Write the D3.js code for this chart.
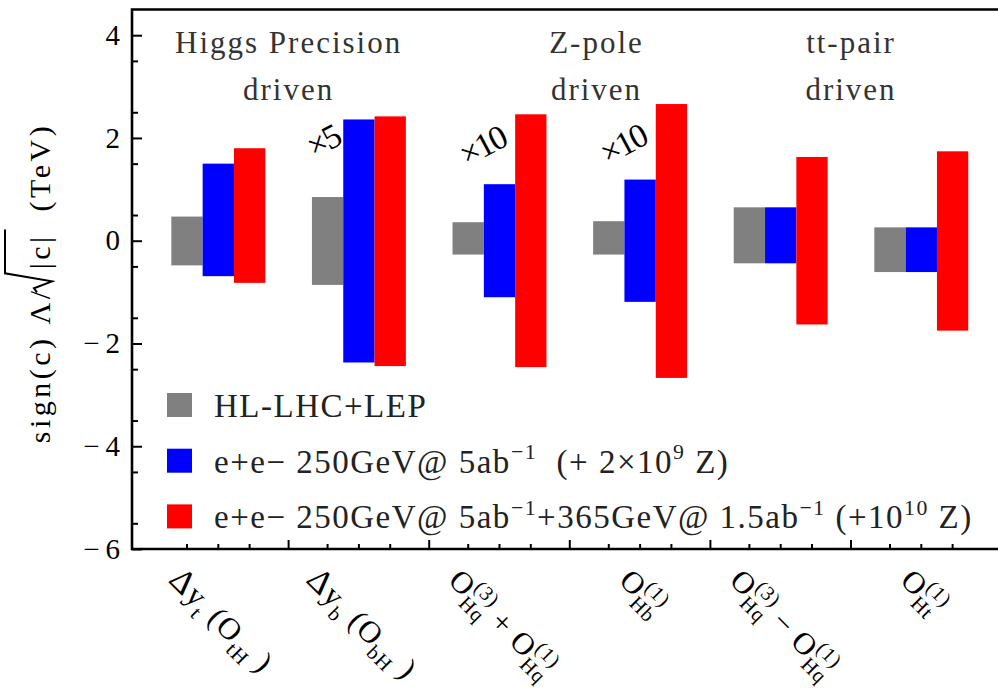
<!DOCTYPE html>
<html>
<head>
<meta charset="utf-8">
<script src="https://cdn.jsdelivr.net/npm/d3@7"></script>
<style>
  body { margin: 0; background: #fff; }
  text { font-family: "Liberation Serif", "Times New Roman", serif; white-space: pre; }
</style>
</head>
<body>
<svg id="chart" width="998" height="691"></svg>
<script>
// operator categories along the x axis
const categories = ["dyt", "dyb", "hq3p1", "hb1", "hq3m1", "ht1"];
const series = ["hllhc", "ee250", "ee365"];
const seriesColors = ["#808080", "#0000ff", "#ff0000"];

// upper / lower end of every bar (TeV)
const hllhcHigh = [0.47, 0.85, 0.36, 0.38, 0.65, 0.26];
const hllhcLow = [-0.48, -0.86, -0.27, -0.27, -0.44, -0.61];
const ee250High = [1.50, 2.36, 1.10, 1.19, 0.65, 0.26];
const ee250Low = [-0.69, -2.37, -1.10, -1.19, -0.44, -0.61];
const ee365High = [1.80, 2.42, 2.46, 2.66, 1.63, 1.74];
const ee365Low = [-0.82, -2.44, -2.46, -2.67, -1.63, -1.75];

const yTicks = [-6, -4, -2, 0, 2, 4];

// scale-factor notes on the blue bars
const noteCats = ["dyb", "hq3p1", "hb1"];
const noteTexts = ["×5", "×10", "×10"];
const noteY = [1.95, 1.86, 1.89];

const groupTitles = [["Higgs Precision", "driven"], ["Z-pole", "driven"], ["tt-pair", "driven"]];
const groupTitleAt = [1.0, 3.19, 5.0];   // in units of category steps

const legendLabels = [
  [["HL-LHC+LEP", "n"]],
  [["e+e− 250GeV@ 5ab", "n"], ["−1", "sup"], ["  (+ 2×10", "n"], ["9", "sup"], [" Z)", "n"]],
  [["e+e− 250GeV@ 5ab", "n"], ["−1", "sup"], ["+365GeV@ 1.5ab", "n"], ["−1", "sup"], [" (+10", "n"], ["10", "sup"], [" Z)", "n"]]
];

const xLabels = [
  [["Δ", "n", 34], ["y", "n"], ["t", "sub"], [" (O", "n"], ["tH", "sub"], [" )", "n"]],
  [["Δ", "n", 34], ["y", "n"], ["b", "sub"], [" (O", "n"], ["bH", "sub"], [" )", "n"]],
  [["O", "n"], [["Hq", "(3)"], "subsup"], [" + O", "n"], [["Hq", "(1)"], "subsup"]],
  [["O", "n"], [["Hb", "(1)"], "subsup"]],
  [["O", "n"], [["Hq", "(3)"], "subsup"], [" − O", "n"], [["Hq", "(1)"], "subsup"]],
  [["O", "n"], [["Ht", "(1)"], "subsup"]]
];

const bars = [
  { high: hllhcHigh, low: hllhcLow },
  { high: ee250High, low: ee250Low },
  { high: ee365High, low: ee365Low }
];

const plotLeft = 132, plotRight = 1000, plotTop = 9.5, plotBottom = 549;
const svg = d3.select("#chart");

const x = d3.scaleBand().domain(categories).range([148, 991.6]);
const xs = d3.scaleBand().domain(series).range([0, x.bandwidth()]).paddingOuter(0.745);
const y = d3.scaleLinear().domain([-6, 4.5]).range([plotBottom, plotTop]);

// lays out a run of normal / sub / sup pieces, returns width
function richText(g, pieces, size, spacing) {
  let cx = 0;
  pieces.forEach(([t, mode, fs]) => {
    const small = size * 0.66;
    if (mode === "subsup") {
      const a = g.append("text").attr("x", cx).attr("y", size * 0.28).attr("font-size", small)
        .attr("letter-spacing", spacing).text(t[0]);
      const b = g.append("text").attr("x", cx).attr("y", -size * 0.42).attr("font-size", small)
        .attr("letter-spacing", spacing).text(t[1]);
      cx += Math.max(a.node().getComputedTextLength(), b.node().getComputedTextLength());
    } else {
      const dy = mode === "sub" ? size * 0.28 : mode === "sup" ? -size * 0.42 : 0;
      const el = g.append("text").attr("x", cx).attr("y", dy)
        .attr("font-size", mode === "n" ? (fs || size) : small)
        .attr("letter-spacing", spacing).text(t);
      cx += el.node().getComputedTextLength();
    }
  });
  return cx;
}

// bars
bars.forEach((s, si) => {
  svg.append("g").selectAll("rect").data(categories).join("rect")
    .attr("x", c => x(c) + xs(series[si]))
    .attr("width", xs.bandwidth())
    .attr("y", (c, i) => y(s.high[i]))
    .attr("height", (c, i) => y(s.low[i]) - y(s.high[i]))
    .attr("fill", seriesColors[si]);
});

// y axis ticks
const yAxis = svg.append("g").attr("transform", `translate(${plotLeft},0)`)
  .call(d3.axisLeft(y).tickValues(yTicks).tickSizeInner(-10).tickSizeOuter(0).tickPadding(12)
    .tickFormat(d => d < 0 ? "−\u2009" + (-d) : String(d)));
yAxis.select(".domain").remove();
yAxis.selectAll("line").attr("stroke", "#000").attr("stroke-width", 2);
yAxis.selectAll("text").attr("font-size", 29).attr("fill", "#000")
  .style("font-family", '"Liberation Serif", serif');

const yMinor = svg.append("g").attr("transform", `translate(${plotLeft},0)`)
  .call(d3.axisLeft(y).tickValues(d3.range(-5.5, 4.5, 1)).tickSizeInner(-6).tickSizeOuter(0).tickFormat(""));
yMinor.select(".domain").remove();
yMinor.selectAll("line").attr("stroke", "#000").attr("stroke-width", 2);

// x axis ticks: majors at group boundaries, minors at bar centres
const xt = svg.append("g");
xt.selectAll(".maj").data(categories.slice(0, -1)).join("line")
  .attr("x1", c => x(c) + x.bandwidth()).attr("x2", c => x(c) + x.bandwidth())
  .attr("y1", plotBottom).attr("y2", plotBottom - 9)
  .attr("stroke", "#000").attr("stroke-width", 2);
xt.selectAll(".min").data(d3.cross(categories, series)).join("line")
  .attr("x1", d => x(d[0]) + xs(d[1]) + xs.bandwidth() / 2)
  .attr("x2", d => x(d[0]) + xs(d[1]) + xs.bandwidth() / 2)
  .attr("y1", plotBottom).attr("y2", plotBottom - 5)
  .attr("stroke", "#000").attr("stroke-width", 2);

// frame
svg.append("path")
  .attr("d", `M${plotRight},${plotBottom}H${plotLeft}V${plotTop}H${plotRight}`)
  .attr("fill", "none").attr("stroke", "#000").attr("stroke-width", 2.6);

// x labels, rotated 45 deg
xLabels.forEach((pieces, i) => {
  const outer = svg.append("g");
  const rot = outer.append("g").attr("transform", "rotate(45)");
  const inner = rot.append("g").attr("fill", "#000");
  const w = richText(inner, pieces, 31, 1);
  inner.attr("transform", `translate(${-w / 2},0)`);
  const bb = outer.node().getBBox();
  const cx = x(categories[i]) + x.bandwidth() / 2 + 2;
  outer.attr("transform", `translate(${cx - (bb.x + bb.width / 2)},${560 - bb.y})`);
});

// group titles
groupTitles.forEach((lines, i) => {
  const gx = 148 + groupTitleAt[i] * x.step();
  lines.forEach((t, j) => {
    svg.append("text").attr("x", gx).attr("y", 53 + j * 47)
      .attr("text-anchor", "middle").attr("font-size", 31)
      .attr("letter-spacing", 2).attr("fill", "#333").text(t);
  });
});

// scale notes
noteCats.forEach((c, i) => {
  const nx = x(c) + xs("hllhc") + xs.bandwidth() * (i === 0 ? 0.35 : 0.95);
  svg.append("text").attr("transform", `translate(${nx},${y(noteY[i])}) rotate(-28)`)
    .attr("text-anchor", "middle").attr("dy", "0.35em").attr("font-size", 34)
    .attr("letter-spacing", -2).attr("fill", "#000").text(noteTexts[i]);
});

// legend
legendLabels.forEach((pieces, i) => {
  const ly = 417 + i * 55.7;
  svg.append("rect").attr("x", 167).attr("y", ly - 24).attr("width", 25).attr("height", 24)
    .attr("fill", seriesColors[i]);
  const g = svg.append("g").attr("transform", `translate(214,${ly})`).attr("fill", "#222");
  richText(g, pieces, 33, 1.5);
});

// y axis title with a radical sign
const yl = svg.append("g").attr("transform", "translate(50,283) rotate(-90)");
const yi = yl.append("g").attr("font-size", 30).attr("letter-spacing", 3.5).attr("fill", "#000");
let px = 0;
const t1 = yi.append("text").attr("x", px).text("sign(c) Λ/");
px += t1.node().getComputedTextLength() + 2;
const rx = px + 4;
px = rx + 12;
const t2 = yi.append("text").attr("x", px).text("|c|");
px += t2.node().getComputedTextLength() + 4;
const overEnd = px;
px += 18;
const t3 = yi.append("text").attr("x", px).text("(TeV)");
px += t3.node().getComputedTextLength();
yi.append("path")
  .attr("d", `M${rx - 11},-13L${rx - 7},-16L${rx},2L${rx + 8},-45L${overEnd},-45`)
  .attr("fill", "none").attr("stroke", "#000").attr("stroke-width", 2);
yi.attr("transform", `translate(${-px / 2},0)`);
</script>
</body>
</html>
